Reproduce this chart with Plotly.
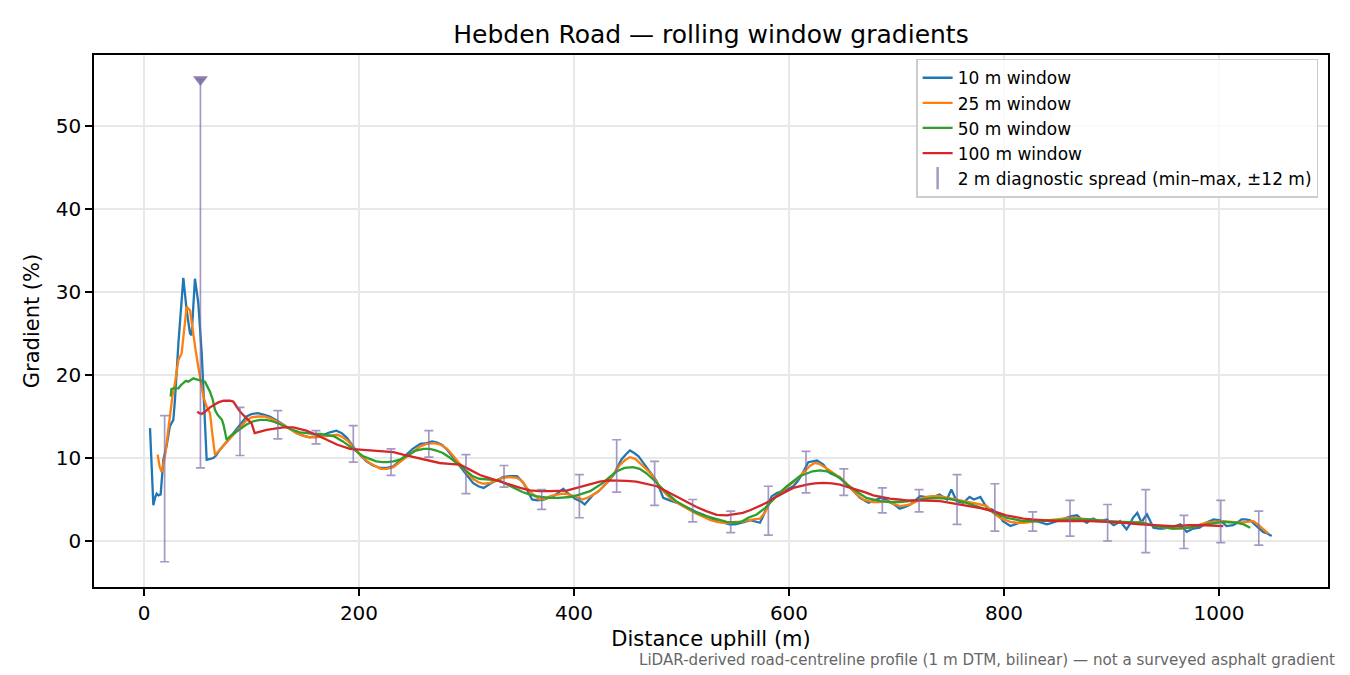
import numpy as np
import plotly.graph_objects as go

# --- data (distance in m, gradient in %) ---
x10 = [5.6, 8.7, 10.5, 11.8, 13.5, 15.5, 18, 21, 24, 27.3, 28.8, 32, 36.6, 39.7, 42.8, 44.3, 47.4, 50.5,
       53.7, 55.8, 58.3, 61.4, 64.5, 67, 70.7, 77, 83, 89.3, 95.5, 100, 106, 112, 117, 124, 130, 136, 142,
       148, 154, 160, 167, 173, 179, 184, 189, 194, 198, 203, 207, 213, 220, 226, 232, 238, 244, 250, 257,
       263, 268, 272, 277, 282, 288, 294, 300, 306, 311, 316, 322, 328, 334, 340, 347, 353, 357, 361, 366,
       372, 376, 381, 386, 390, 393, 396, 401, 406, 410, 414, 418, 423, 427, 432, 437, 441, 444, 448, 452,
       456, 460, 464, 468, 473, 477, 480, 483, 489, 496, 502, 508, 514, 520, 526, 533, 539, 545, 550, 554,
       559, 564, 569, 573, 576, 579, 584, 589, 595, 600, 604, 608, 612, 618, 622, 626, 632, 638, 643, 647,
       652, 657, 662, 666, 670, 674, 680, 685, 690, 694, 699, 703, 708, 713, 718, 722, 728, 734, 740, 743,
       747, 751, 756, 762, 765, 768, 772, 778, 784, 789, 795, 799, 806, 812, 816, 821, 826, 830, 835, 840,
       845, 849, 854, 858, 863, 868, 872, 877, 880, 883, 886, 889, 892, 896, 899, 902, 905, 908, 911, 914,
       917, 920, 924, 926, 928, 930, 933, 936, 939, 944, 948, 953, 958, 964, 967, 970, 973, 976, 982, 988,
       995, 1001, 1007, 1013, 1017, 1021, 1025, 1029, 1035, 1041, 1045, 1049]
g10 = [13.6, 4.3, 5.3, 5.7, 5.5, 5.6, 9.8, 11.4, 13.8, 14.6, 17.0, 23.8, 31.7, 27.8, 25.0, 24.8, 31.6, 28.7,
       22.6, 15.8, 9.8, 9.9, 10.0, 10.3, 11.0, 12.0, 13.0, 14.0, 15.0, 15.3, 15.4, 15.2, 15.0, 14.5, 14.0,
       13.5, 13.0, 12.7, 12.5, 12.6, 12.8, 13.1, 13.3, 13.0, 12.4, 11.5, 10.8, 10.1, 9.6, 9.1, 8.8, 8.8, 9.0,
       9.7, 10.4, 11.1, 11.7, 11.8, 12.0, 11.9, 11.6, 11.0, 10.0, 9.0, 8.0, 7.0, 6.6, 6.4, 6.9, 7.3, 7.7, 7.8,
       7.8, 7.0, 6.0, 5.0, 4.9, 5.0, 5.2, 5.4, 5.9, 6.3, 5.9, 5.6, 5.1, 4.8, 4.4, 5.0, 5.6, 6.0, 6.5, 7.2,
       8.0, 9.0, 9.8, 10.4, 10.9, 10.6, 10.2, 9.5, 8.8, 8.0, 7.2, 6.2, 5.2, 4.9, 4.6, 4.2, 3.8, 3.5, 3.2,
       2.8, 2.4, 2.2, 2.0, 2.0, 2.1, 2.3, 2.5, 2.3, 2.2, 3.0, 4.0, 5.4, 5.8, 6.0, 6.3, 6.6, 7.2, 8.0, 9.5,
       9.6, 9.7, 9.2, 8.2, 7.9, 7.7, 7.1, 6.4, 5.8, 5.2, 4.9, 4.6, 4.9, 5.2, 5.0, 4.7, 4.3, 3.9, 4.1, 4.4,
       4.9, 5.4, 5.3, 5.3, 5.6, 5.3, 5.0, 6.2, 4.8, 4.6, 5.0, 5.3, 5.0, 5.3, 4.0, 3.8, 3.2, 2.4, 1.8, 2.1,
       2.3, 2.4, 2.4, 2.4, 2.2, 2.0, 2.2, 2.4, 2.6, 2.8, 3.0, 3.1, 2.6, 2.2, 2.5, 2.7, 2.5, 2.4, 2.5, 2.6,
       2.2, 1.9, 2.1, 2.4, 1.9, 1.4, 2.0, 2.8, 3.4, 2.8, 2.2, 2.7, 3.2, 2.4, 1.6, 1.5, 1.5, 1.6, 1.7, 2.0,
       1.6, 1.1, 1.3, 1.5, 1.6, 2.2, 2.6, 2.5, 1.8, 1.9, 2.2, 2.6, 2.6, 2.5, 1.8, 1.1, 0.9, 0.6]

x25 = [12.7, 14.5, 16.4, 19.5, 22, 24, 26.5, 28.8, 32, 35, 37.5, 39.7, 42.8, 45.9, 48, 50.5, 55.2, 58, 61.4,
       63.5, 66, 70, 75, 80, 85, 90, 95, 100, 106, 112, 117, 124, 130, 136, 142, 148, 154, 160, 167, 173,
       180, 185, 190, 195, 200, 205, 210, 215, 220, 226, 232, 238, 245, 251, 257, 263, 270, 276, 282, 288,
       294, 300, 306, 311, 316, 322, 328, 334, 340, 347, 352, 356, 362, 368, 373, 378, 384, 390, 396, 402,
       408, 414, 421, 427, 433, 438, 443, 448, 452, 457, 461, 466, 471, 476, 480, 486, 490, 496, 502, 508,
       514, 520, 527, 533, 539, 545, 550, 557, 562, 567, 573, 578, 582, 588, 595, 601, 607, 612, 616, 620,
       624, 628, 632, 637, 641, 646, 650, 655, 660, 664, 669, 674, 678, 684, 691, 697, 703, 708, 713, 719,
       725, 733, 740, 748, 756, 764, 772, 778, 784, 790, 796, 801, 806, 812, 818, 826, 834, 842, 849, 857,
       864, 872, 880, 888, 896, 904, 911, 919, 927, 935, 942, 950, 957, 965, 973, 981, 988, 996, 1004, 1012,
       1019, 1026, 1032, 1037, 1041, 1046]
g25 = [10.4, 9.0, 8.3, 10.2, 12.8, 15.0, 17.5, 19.0, 21.8, 22.6, 25.5, 28.2, 27.8, 24.6, 23.0, 21.0, 17.4,
       16.3, 15.4, 13.0, 10.4, 10.9, 11.6, 12.4, 13.1, 13.8, 14.5, 14.9, 15.0, 15.0, 14.8, 14.4, 14.0, 13.5,
       13.0, 12.7, 12.5, 12.5, 12.6, 12.7, 12.8, 12.5, 12.0, 11.2, 10.5, 9.9, 9.4, 9.0, 8.7, 8.7, 8.9, 9.5,
       10.2, 10.9, 11.4, 11.7, 11.8, 11.6, 11.1, 10.2, 9.2, 8.3, 7.5, 7.1, 6.9, 7.0, 7.3, 7.6, 7.7, 7.6, 7.2,
       6.4, 5.6, 5.0, 5.1, 5.4, 5.6, 5.7, 5.6, 5.3, 5.0, 5.3, 5.8, 6.5, 7.4, 8.3, 9.2, 9.8, 10.1, 9.9, 9.4,
       8.8, 8.2, 7.3, 6.4, 5.6, 5.1, 4.6, 4.1, 3.7, 3.3, 2.9, 2.5, 2.3, 2.2, 2.2, 2.3, 2.3, 2.5, 2.6, 2.7,
       3.5, 4.6, 5.4, 6.2, 6.8, 7.4, 8.0, 8.6, 9.1, 9.4, 9.3, 9.0, 8.6, 8.2, 7.8, 7.4, 6.7, 6.0, 5.5, 5.0,
       4.8, 4.7, 4.7, 4.8, 4.5, 4.2, 4.3, 4.4, 4.8, 5.2, 5.4, 5.4, 5.2, 5.0, 4.8, 4.6, 4.4, 4.2, 3.4, 2.8,
       2.5, 2.3, 2.2, 2.2, 2.3, 2.5, 2.5, 2.6, 2.7, 2.8, 2.7, 2.6, 2.5, 2.4, 2.3, 2.2, 2.2, 2.3, 2.0, 1.8,
       1.6, 1.5, 1.5, 1.6, 1.9, 2.2, 2.3, 2.4, 2.3, 2.2, 2.3, 2.4, 1.9, 1.4, 0.9]

x50 = [24.8, 25.5, 27.3, 30, 32, 34.5, 36.6, 39, 41.2, 43.5, 45.9, 48, 50.5, 53, 56.7, 59, 61.4, 64, 66, 68.5,
       70.7, 72.5, 74, 76.9, 80, 83, 89, 95, 101, 108, 114, 120, 126, 132, 138, 145, 151, 158, 164, 170, 177,
       185, 191, 198, 204, 210, 216, 222, 226, 232, 238, 245, 253, 260, 266, 272, 278, 285, 291, 298, 306,
       312, 319, 325, 330, 335, 340, 346, 352, 359, 365, 371, 378, 386, 396, 405, 415, 421, 427, 433, 440,
       447, 455, 461, 467, 473, 480, 487, 495, 504, 514, 523, 533, 542, 551, 557, 562, 570, 578, 585, 592,
       598, 604, 610, 616, 622, 629, 635, 641, 647, 653, 660, 666, 672, 678, 685, 694, 703, 712, 722, 734,
       747, 756, 765, 775, 784, 790, 795, 802, 810, 818, 834, 849, 864, 880, 895, 911, 927, 942, 957, 973,
       988, 1004, 1016, 1023, 1029]
g50 = [17.4, 18.3, 18.4, 18.4, 18.4, 18.8, 19.0, 19.3, 19.2, 19.4, 19.6, 19.5, 19.4, 19.3, 19.2, 18.6, 18.0,
       17.0, 15.8, 15.2, 14.9, 14.6, 14.0, 12.2, 12.6, 12.9, 13.5, 14.0, 14.4, 14.6, 14.6, 14.4, 14.1, 13.7,
       13.4, 13.1, 13.0, 12.9, 12.9, 12.8, 12.6, 12.0, 11.4, 10.7, 10.2, 9.9, 9.6, 9.5, 9.5, 9.6, 9.8, 10.3,
       10.9, 11.1, 11.1, 10.9, 10.6, 10.0, 9.4, 8.6, 7.8, 7.5, 7.4, 7.4, 7.3, 7.0, 6.7, 6.3, 5.9, 5.6, 5.4,
       5.3, 5.2, 5.2, 5.3, 5.6, 6.0, 6.5, 7.0, 7.7, 8.4, 8.8, 8.9, 8.7, 8.2, 7.5, 6.6, 5.7, 4.8, 4.1, 3.4,
       3.0, 2.6, 2.3, 2.2, 2.4, 2.8, 3.2, 4.0, 5.0, 5.9, 6.6, 7.2, 7.8, 8.1, 8.4, 8.5, 8.4, 8.1, 7.6, 6.9,
       6.2, 5.7, 5.2, 5.0, 4.8, 4.7, 4.7, 4.8, 5.0, 5.2, 5.1, 4.9, 4.6, 4.2, 3.8, 3.5, 3.2, 2.8, 2.6, 2.4,
       2.4, 2.5, 2.6, 2.6, 2.4, 2.3, 2.2, 1.8, 1.5, 1.6, 2.0, 2.3, 2.2, 2.0, 1.6]

x100 = [49.6, 51.5, 53.6, 57, 61.4, 65, 69.1, 74, 80, 83, 86, 89.3, 93, 97, 100, 103, 108, 114, 120, 129.6,
        139, 145, 151, 160, 170, 180, 191.6, 202, 213, 222, 232, 241, 250.5, 262, 275, 284, 294, 303, 312.6,
        322, 328, 340.5, 350, 359, 368, 377.7, 385, 393, 400, 408.7, 416, 424, 432, 439.7, 449, 458, 468, 477,
        486, 495.5, 505, 514, 523, 532.7, 542, 551, 557, 563.7, 571, 579, 585, 591.6, 598, 604, 610, 616.5,
        624, 632, 640, 647.4, 655, 663, 671, 678.4, 686, 694, 702, 709.5, 718, 725, 733, 740.5, 748, 756, 764,
        771.5, 778, 784, 790, 795, 802, 810, 818, 826, 834, 849, 864, 880, 895, 911, 927, 942, 957, 973, 988,
        1004]
g100 = [15.6, 15.4, 15.3, 15.6, 16.1, 16.4, 16.7, 16.9, 16.9, 16.8, 16.2, 15.6, 15.1, 14.6, 14.2, 13.0, 13.2,
        13.4, 13.5, 13.7, 13.7, 13.5, 13.3, 12.8, 12.2, 11.6, 11.1, 11.0, 10.9, 10.8, 10.7, 10.4, 10.1, 9.8,
        9.4, 9.3, 9.2, 8.6, 7.95, 7.55, 7.3, 6.75, 6.4, 6.1, 6.0, 6.0, 6.0, 6.06, 6.3, 6.6, 6.9, 7.15, 7.3,
        7.3, 7.25, 7.15, 6.9, 6.6, 6.0, 5.35, 4.7, 4.1, 3.6, 3.15, 3.1, 3.25, 3.4, 3.7, 4.1, 4.6, 5.1, 5.6,
        6.0, 6.4, 6.6, 6.8, 6.95, 7.0, 6.95, 6.8, 6.5, 6.2, 5.85, 5.5, 5.3, 5.1, 5.0, 4.9, 4.9, 4.9, 4.85,
        4.8, 4.65, 4.5, 4.3, 4.1, 3.95, 3.8, 3.6, 3.4, 3.1, 2.9, 2.7, 2.6, 2.5, 2.4, 2.4, 2.4, 2.3, 2.2, 2.0,
        1.9, 1.8, 1.9, 1.9, 1.8]

# 2 m diagnostic spread: min and max within +-12 m of each sample point
spread_x = [19.2, 52.5, 89.3, 124.5, 160, 194.7, 229.8, 265, 299.5, 334.9, 370, 405, 439.7, 475, 510.4,
            545.8, 580.8, 615.8, 651, 686.8, 721, 756.3, 791.5, 826.7, 861.4, 896.4, 931.8, 967.4, 1001.6, 1037]
spread_min = [-2.5, 8.8, 10.3, 12.3, 11.7, 9.5, 7.9, 10.1, 5.7, 6.5, 3.8, 2.8, 5.9, 4.3, 2.3, 1.0, 0.7, 5.8,
              5.5, 3.4, 3.5, 2.0, 1.2, 1.2, 0.6, 0.0, -1.4, -0.9, -0.2, -0.5]
spread_max = [15.1, 55.6, 16.1, 15.7, 13.3, 13.9, 11.1, 13.3, 10.4, 9.1, 6.2, 8.0, 12.2, 9.6, 5.0, 3.6, 6.6,
              10.8, 8.7, 6.4, 6.2, 8.0, 6.9, 3.5, 4.9, 4.4, 6.2, 3.1, 4.9, 3.6]

FONT = "DejaVu Sans"
SPREAD_COLOR = "rgba(122,104,166,0.68)"

fig = go.Figure()

windows = [("10 m window", x10, g10, "#1f77b4"),
           ("25 m window", x25, g25, "#ff7f0e"),
           ("50 m window", x50, g50, "#2ca02c"),
           ("100 m window", x100, g100, "#d62728")]
for name, xs, ys, col in windows:
    fig.add_trace(go.Scatter(x=xs, y=ys, mode="lines", name=name, legendgroup=name,
                             line=dict(color=col, width=2.3)))

# min-max bars drawn around the midpoint
lo = np.array(spread_min)
hi = np.array(spread_max)
mid = (lo + hi) / 2
half = (hi - lo) / 2
fig.add_trace(go.Scatter(x=spread_x, y=mid, mode="markers", showlegend=False,
                         marker=dict(size=1, opacity=0),
                         error_y=dict(type="data", symmetric=True, array=half,
                                      color=SPREAD_COLOR, thickness=1.7, width=4.5)))

# flag the spread that runs far above the rest
big = hi > 40
fig.add_trace(go.Scatter(x=np.array(spread_x)[big], y=hi[big], mode="markers", showlegend=False,
                         marker=dict(symbol="triangle-down", size=13, color="rgba(122,104,166,0.85)")))

# legend stand-in for the error bars
fig.add_trace(go.Scatter(x=[None], y=[None], mode="markers",
                         name="2 m diagnostic spread (min–max, ±12 m)", legendgroup="spread",
                         marker=dict(symbol="line-ns-open", size=16, color=SPREAD_COLOR,
                                     line=dict(color=SPREAD_COLOR, width=2.5))))

axis_style = dict(showline=True, linecolor="black", linewidth=1.6, mirror=True,
                  ticks="outside", ticklen=7, tickwidth=1.6, tickcolor="black",
                  showgrid=True, gridcolor="#e8e8e8", gridwidth=1.6, zeroline=False,
                  tickfont=dict(family=FONT, size=20, color="black"))

fig.update_xaxes(range=[-46.5, 1101.4], tickvals=[0, 200, 400, 600, 800, 1000],
                 title=dict(text="Distance uphill (m)", font=dict(family=FONT, size=21, color="black"),
                            standoff=8),
                 **axis_style)
fig.update_yaxes(range=[-5.54, 58.55], tickvals=[0, 10, 20, 30, 40, 50],
                 title=dict(text="Gradient (%)", font=dict(family=FONT, size=21, color="black"),
                            standoff=10),
                 **axis_style)

# page body adds an 8 px margin, so the figure is drawn slightly smaller and shifted
fig.update_layout(
    width=1342, height=667,
    margin=dict(l=86, r=22, t=47, b=88),
    paper_bgcolor="white", plot_bgcolor="white",
    title=dict(text="Hebden Road — rolling window gradients", x=0.5, xref="paper",
               y=0.961, yref="container", yanchor="middle",
               font=dict(family=FONT, size=25, color="black")),
    legend=dict(x=0.992, y=0.993, xanchor="right", yanchor="top",
                bgcolor="rgba(255,255,255,0.8)", bordercolor="#cccccc", borderwidth=1.5,
                font=dict(family=FONT, size=17, color="black"),
                traceorder="grouped", tracegroupgap=0),
    annotations=[dict(text="LiDAR-derived road-centreline profile (1 m DTM, bilinear) — not a surveyed asphalt gradient",
                      xref="paper", yref="paper", x=1.0075, y=-0.137, xanchor="right", yanchor="middle",
                      showarrow=False, font=dict(family=FONT, size=15.1, color="#666666"))],
)

fig.write_html("out.html")
